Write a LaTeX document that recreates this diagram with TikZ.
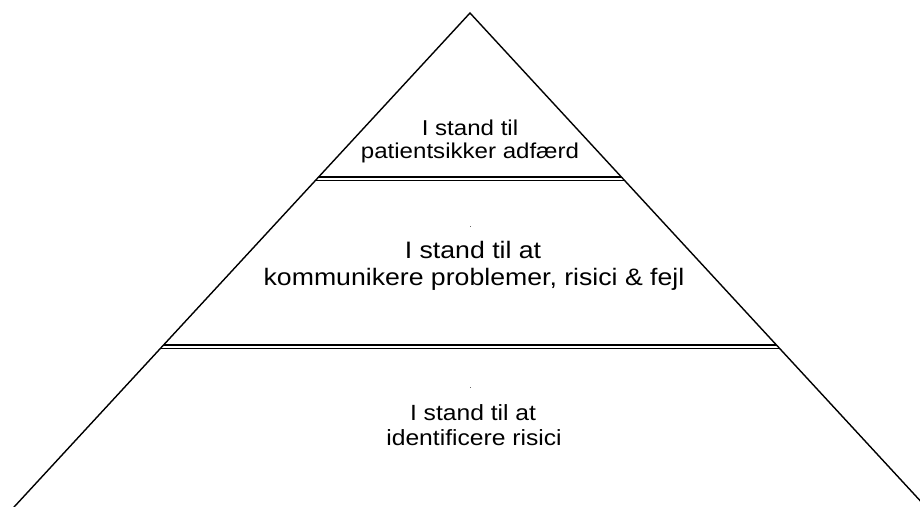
\documentclass[tikz,border=0pt]{standalone}
\usepackage{fontspec}
\setmainfont{Liberation Sans}[FakeStretch=1.12]
\begin{document}
\begin{tikzpicture}[x=1pt,y=-1pt,
  side/.style={line width=1.4pt, line cap=round},
  rulethick/.style={line width=2pt},
  rulethin/.style={line width=1.2pt},
  toptext/.style={anchor=base, inner sep=0pt, font=\fontsize{21.5}{25}\selectfont},
  midtext/.style={anchor=base, inner sep=0pt, font=\fontsize{23.8}{28}\selectfont},
  lowtext/.style={anchor=base, inner sep=0pt, font=\fontsize{22}{25}\selectfont}]
\useasboundingbox (0,0) rectangle (920,506);
\begin{scope}
\clip (0,0) rectangle (920,506);
% pyramid sides, slope 1.0835
\coordinate (apex) at (470,13);
\coordinate (bl) at (5,516.8);
\coordinate (br) at (935,516.8);
\draw[side] (bl) -- (apex) -- (br);
\end{scope}
% level separators (double rules)
\coordinate (a1l) at (318.6,177.3);
\coordinate (a1r) at (621.4,177.3);
\coordinate (a2l) at (315.4,180.8);
\coordinate (a2r) at (624.6,180.8);
\draw[rulethick] (a1l) -- (a1r);
\draw[rulethin] (a2l) -- (a2r);
\coordinate (b1l) at (163.6,345.1);
\coordinate (b1r) at (776.4,345.1);
\coordinate (b2l) at (160.2,348.8);
\coordinate (b2r) at (779.8,348.8);
\draw[rulethick] (b1l) -- (b1r);
\draw[rulethin] (b2l) -- (b2r);
% top level
\node[toptext] (t1) at (470,135) {I stand til};
\node[toptext] (t2) at (470,158) {patientsikker adfærd};
% middle level
\fill[black!60] (469.5,225.5) rectangle (470.5,226.5);
\node[midtext] (m1) at (473,258.3) {I stand til at};
\node[midtext] (m2) at (474,285) {kommunikere problemer, risici \& fejl};
% bottom level
\fill[black!60] (469.5,386.5) rectangle (470.5,387.5);
\node[lowtext] (l1) at (473,420) {I stand til at};
\node[lowtext] (l2) at (474,445) {identificere risici};
\end{tikzpicture}
\end{document}
